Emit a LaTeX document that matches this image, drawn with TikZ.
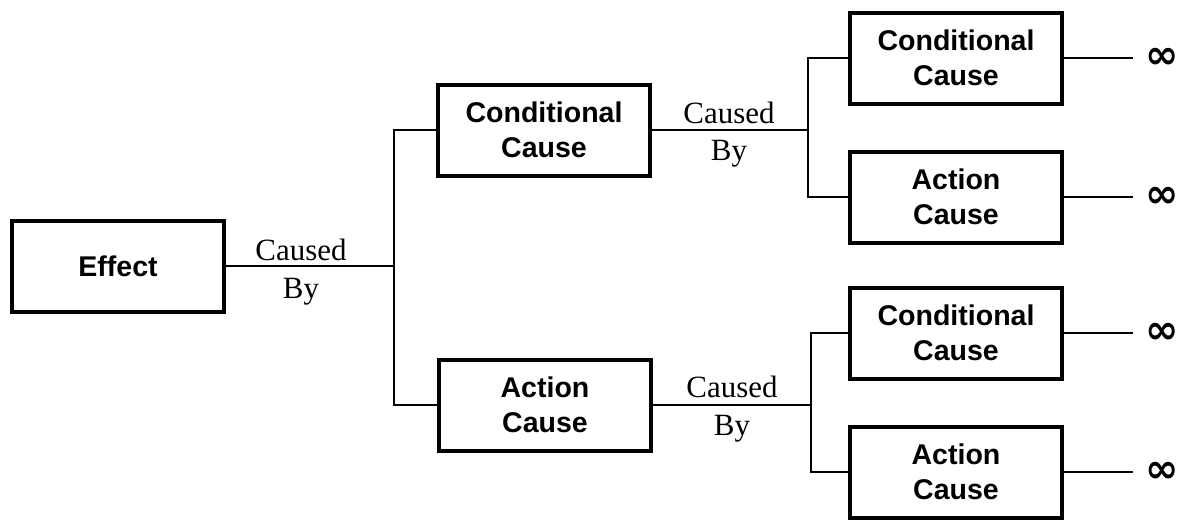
\documentclass[tikz,border=0pt]{standalone}
\usepackage{fontspec}
\setmainfont{Liberation Serif}
\setsansfont{Liberation Sans}
\newfontfamily\symfont{DejaVu Sans}
\begin{document}
\begin{tikzpicture}[x=0.75pt,y=-0.75pt,
  causebox/.style={draw, line width=3pt, minimum width=159pt, minimum height=68.25pt,
    inner sep=0pt, align=center,
    font=\sffamily\bfseries\fontsize{21.4}{26}\selectfont},
  link/.style={line width=1.5pt},
  rel/.style={font=\fontsize{23.2}{26}\selectfont, inner sep=0pt, anchor=base},
  inf/.style={font=\symfont\bfseries\fontsize{30}{32}\selectfont, inner sep=0pt}]
  \useasboundingbox (0,0) rectangle (1178,521);

  % cause boxes
  \node[causebox] (eff) at (118,266) {Effect};
  \node[causebox] (c1) at (544,130) {Conditional\\Cause};
  \node[causebox] (a1) at (545,405) {Action\\Cause};
  \node[causebox] (c2) at (956,58) {Conditional\\Cause};
  \node[causebox] (a2) at (956,197) {Action\\Cause};
  \node[causebox] (c3) at (956,333) {Conditional\\Cause};
  \node[causebox] (a3) at (956,472) {Action\\Cause};

  % branch points
  \coordinate (t0) at (394,266);
  \coordinate (t1) at (808,130);
  \coordinate (t2) at (811,405);

  % tree connectors
  \draw[link] (eff.east) -- (t0);
  \draw[link] (c1.west) -| (t0) |- (a1.west);
  \draw[link] (c1.east) -- (t1);
  \draw[link] (c2.west) -| (t1) |- (a2.west);
  \draw[link] (a1.east) -- (t2);
  \draw[link] (c3.west) -| (t2) |- (a3.west);

  % "caused by" labels
  \node[rel] (l0a) at (301,260) {Caused};
  \node[rel] (l0b) at (301,298) {By};
  \node[rel] (l1a) at (729,123) {Caused};
  \node[rel] (l1b) at (729,160) {By};
  \node[rel] (l2a) at (732,397) {Caused};
  \node[rel] (l2b) at (732,435) {By};

  % open-ended chains
  \node[inf] (i1) at (1162,58) {∞};
  \node[inf] (i2) at (1162,197) {∞};
  \node[inf] (i3) at (1162,333) {∞};
  \node[inf] (i4) at (1162,472) {∞};
  \draw[link, shorten >=9pt] (c2.east) -- (i1.west);
  \draw[link, shorten >=9pt] (a2.east) -- (i2.west);
  \draw[link, shorten >=9pt] (c3.east) -- (i3.west);
  \draw[link, shorten >=9pt] (a3.east) -- (i4.west);
\end{tikzpicture}
\end{document}
